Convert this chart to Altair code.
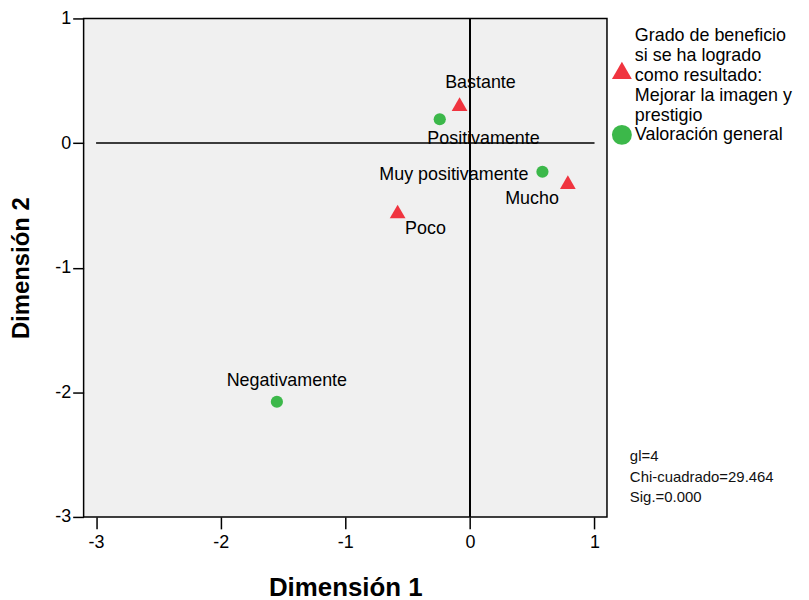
import altair as alt
import pandas as pd

# ---- data ----
categories = ["Bastante", "Positivamente", "Muy positivamente", "Mucho", "Poco", "Negativamente"]
dim1 = [-0.083, -0.242, 0.582, 0.786, -0.580, -1.549]
dim2 = [0.312, 0.191, -0.230, -0.313, -0.549, -2.076]
group_idx = [0, 1, 1, 0, 0, 1]

groups = [
    "Grado de beneficio|si se ha logrado|como resultado:|Mejorar la imagen y|prestigio",
    "Valoración general",
]
x_ticks = [-3, -2, -1, 0, 1]
y_ticks = [-3, -2, -1, 0, 1]
stats_lines = ["gl=4", "Chi-cuadrado=29.464", "Sig.=0.000"]

# ---- styling (label offsets in pixels, relative to each point) ----
label_offsets = {
    "Bastante": (21, -16),
    "Positivamente": (44, 25),
    "Muy positivamente": (-89, 8),
    "Mucho": (-36, 22.5),
    "Poco": (28, 23),
    "Negativamente": (10, -15.6),
}
X_DOMAIN = [-3.1, 1.1]
Y_DOMAIN = [-3, 1]
W, H = 526, 501
px_x = W / (X_DOMAIN[1] - X_DOMAIN[0])
px_y = H / (Y_DOMAIN[1] - Y_DOMAIN[0])

FONT = "Liberation Sans"
RED = "#f0343f"
GREEN = "#3cb84a"
PLOT_BG = "#f0f0f0"

# legend triangle drawn lower so it sits beside the middle of its 5-line label
D = 3.7
legend_triangle = f"M0,{-1.155 + D:.3f}L1,{0.577 + D:.3f}L-1,{0.577 + D:.3f}Z"

df = pd.DataFrame({
    "cat": categories,
    "d1": dim1,
    "d2": dim2,
    "grupo": [groups[i] for i in group_idx],
})
df["lx"] = [x + label_offsets[c][0] / px_x for x, c in zip(df["d1"], df["cat"])]
df["ly"] = [y - label_offsets[c][1] / px_y for y, c in zip(df["d2"], df["cat"])]

xscale = alt.Scale(domain=X_DOMAIN, nice=False, zero=False)
yscale = alt.Scale(domain=Y_DOMAIN, nice=False, zero=False)

xaxis = alt.Axis(
    values=x_ticks, grid=False, domain=False, tickSize=12, tickWidth=1.5,
    tickColor="black", labelFontSize=18, labelFont=FONT, labelColor="black",
    labelPadding=5, labelExpr="datum.value",
    title="Dimensión 1", titleFontSize=26, titleFont=FONT,
    titleFontWeight="bold", titleColor="black", titleY=79,
    titleBaseline="alphabetic",
)
yaxis = alt.Axis(
    values=y_ticks, grid=False, domain=False, tickSize=11, tickWidth=1.5,
    tickColor="black", labelFontSize=18, labelFont=FONT, labelColor="black",
    labelPadding=2, labelExpr="datum.value",
    title="Dimensión 2", titleFontSize=24, titleFont=FONT,
    titleFontWeight="bold", titleColor="black", titleX=-55, titleY=H / 2,
    titleAngle=270, titleBaseline="alphabetic", titleAlign="center",
)

legend = alt.Legend(
    title=None, orient="none", legendX=W + 5, legendY=8, labelFontSize=18,
    labelFont=FONT, labelColor="black", labelLimit=0, symbolSize=400,
    labelOffset=3, rowPadding=0, padding=0, symbolStrokeWidth=0,
    symbolOpacity=1, labelBaseline="middle",
    labelExpr="split(datum.label, '|')",
)

base = alt.Chart(df)

vline = base.mark_rule(color="black", strokeWidth=1.5).encode(
    x=alt.datum(0, scale=xscale, axis=xaxis)
)
hline = alt.Chart(pd.DataFrame({"a": [-3], "b": [1], "c": [0]})).mark_rule(
    color="black", strokeWidth=1.5
).encode(
    x=alt.X("a:Q", scale=xscale, axis=xaxis),
    x2="b:Q",
    y=alt.Y("c:Q", scale=yscale, axis=yaxis),
)

points = base.mark_point(filled=True, opacity=1).encode(
    x=alt.X("d1:Q", scale=xscale, axis=xaxis),
    y=alt.Y("d2:Q", scale=yscale, axis=yaxis),
    color=alt.Color("grupo:N", scale=alt.Scale(domain=groups, range=[RED, GREEN]), legend=None),
    shape=alt.Shape("grupo:N", scale=alt.Scale(domain=groups, range=["triangle-up", "circle"]), legend=None),
    size=alt.Size("grupo:N", scale=alt.Scale(domain=groups, range=[250, 150]), legend=None),
)

legend_layer = base.transform_filter("false").mark_point(filled=True, opacity=1).encode(
    color=alt.Color("grupo:N", scale=alt.Scale(domain=groups, range=[RED, GREEN]), legend=legend),
    shape=alt.Shape("grupo:N", scale=alt.Scale(domain=groups, range=[legend_triangle, "circle"]), legend=legend),
)

labels = base.mark_text(
    font=FONT, fontSize=18, color="black", align="center", baseline="alphabetic"
).encode(
    x=alt.X("lx:Q", scale=xscale, axis=xaxis),
    y=alt.Y("ly:Q", scale=yscale, axis=yaxis),
    text="cat:N",
)

stats = alt.Chart(pd.DataFrame({"k": [0]})).mark_text(
    font=FONT, fontSize=15, color="#111111", align="left", baseline="alphabetic",
    lineHeight=20.5, text=stats_lines,
).encode(x=alt.value(549), y=alt.value(445))

chart = alt.layer(hline, vline, points, labels, stats, legend_layer).resolve_scale(
    color="independent", shape="independent"
).properties(
    width=W, height=H,
    background="white",
    view=alt.ViewBackground(fill=PLOT_BG, stroke="black", strokeWidth=1.5),
    autosize=alt.AutoSizeParams(type="none"),
    padding={"left": 76, "top": 9, "right": 195, "bottom": 82},
).configure_view(
    fill=PLOT_BG, stroke="black", strokeWidth=1.5
)

chart.save("out.html", embed_options={"renderer": "svg", "actions": False})
